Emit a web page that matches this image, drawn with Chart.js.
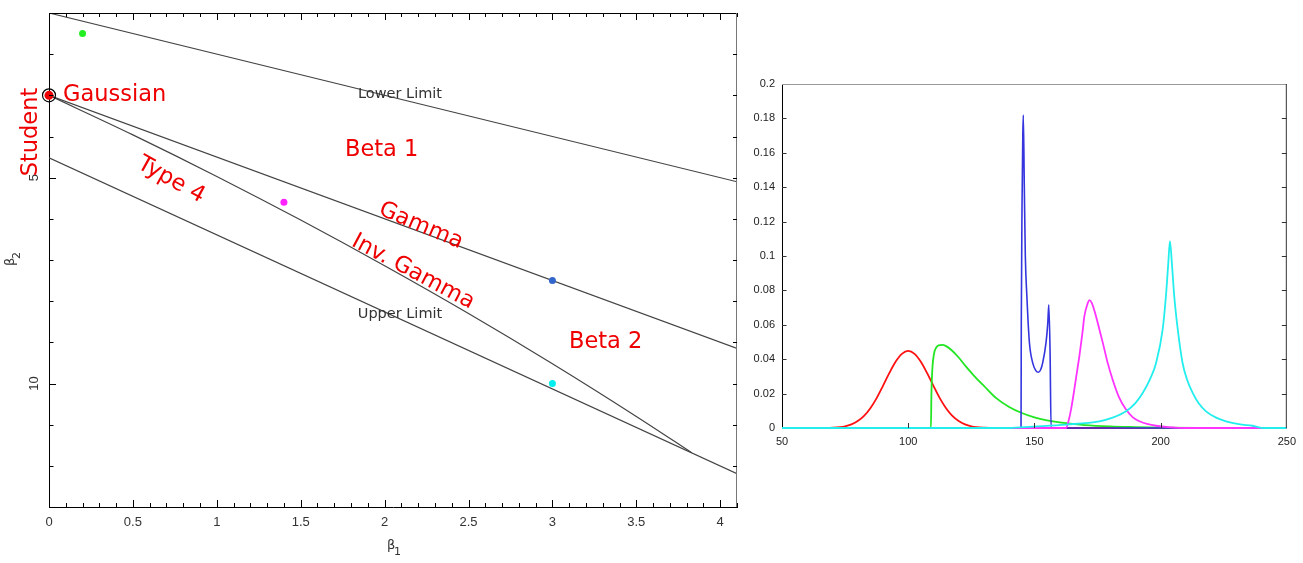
<!DOCTYPE html>
<html>
<head>
<meta charset="utf-8">
<script src="https://cdn.jsdelivr.net/npm/chart.js@4.4.1/dist/chart.umd.min.js"></script>
<style>
html, body { margin: 0; padding: 0; background: #fff; width: 1303px; height: 563px; overflow: hidden; }
#left { position: absolute; left: 0; top: 0; width: 760px; height: 563px; }
#right { position: absolute; left: 740px; top: 0; width: 563px; height: 563px; }
</style>
</head>
<body>
<div id="left"><canvas id="pearson"></canvas></div>
<div id="right"><canvas id="density"></canvas></div>
<script>
// ---- Pearson diagram: beta1 (x) vs beta2 (y, reversed) ----
const lowerLimit = [{x: 0, y: 1}, {x: 4.1, y: 5.1}];
const gammaLine = [{x: 0, y: 3}, {x: 4.1, y: 9.15}];
const invGammaLine = [
  {x: 0, y: 3}, {x: 0.5, y: 3.96}, {x: 1, y: 4.97}, {x: 1.5, y: 6.03}, {x: 2, y: 7.14},
  {x: 2.5, y: 8.3}, {x: 3, y: 9.52}, {x: 3.5, y: 10.8}, {x: 3.83, y: 11.68}
];
const upperLimit = [{x: 0, y: 4.52}, {x: 4.1, y: 12.19}];

const greenPoint = [{x: 0.2, y: 1.5}];
const magentaPoint = [{x: 1.4, y: 5.6}];
const bluePoint = [{x: 3, y: 7.5}];
const cyanPoint = [{x: 3, y: 10}];
const gaussPoint = [{x: 0, y: 3}];

const xTickStep = 0.5;
const yLabelValues = [5, 10];

// ---- density curves ----
const redX = [50, 65, 70, 75, 77.5, 80, 82.5, 85, 87.5, 90, 92.5, 95, 97.5, 100, 102.5, 105, 107.5, 110, 112.5, 115, 117.5, 120, 122.5, 125, 130, 135, 250];
const redY = [0, 0.00002, 0.0002, 0.001, 0.0021, 0.004, 0.007, 0.0115, 0.0174, 0.0245, 0.0319, 0.0385, 0.0431, 0.0448, 0.0431, 0.0385, 0.0319, 0.0245, 0.0174, 0.0115, 0.007, 0.004, 0.0021, 0.001, 0.0002, 0.00002, 0];

const greenX = [50, 109, 109.2, 109.6, 110.2, 111, 112, 113.5, 115, 117, 120, 123, 126, 130, 135, 140, 145, 150, 155, 160, 170, 180, 190, 200, 215, 250];
const greenY = [0, 0, 0.02, 0.035, 0.043, 0.0465, 0.048, 0.0483, 0.0476, 0.0455, 0.041, 0.0355, 0.0305, 0.0245, 0.0172, 0.0122, 0.0087, 0.0062, 0.0045, 0.0033, 0.0017, 0.0009, 0.0005, 0.0002, 0, 0];

const blueX = [50, 144.7, 144.8, 145.1, 145.4, 145.6, 146, 146.4, 147, 148, 149.3, 150.5, 151.6, 152.5, 153.3, 154.6, 155.3, 155.7, 156.2, 156.6, 250];
const blueY = [0, 0, 0.06, 0.13, 0.17, 0.182, 0.14, 0.1, 0.077, 0.05, 0.038, 0.0335, 0.0324, 0.034, 0.038, 0.0496, 0.061, 0.0717, 0.045, 0, 0];

const magentaX = [50, 162.5, 163.5, 164.5, 165.8, 167, 167.8, 169, 169.8, 171, 171.8, 172.8, 174.4, 175.8, 177.1, 179, 181, 183.5, 186.3, 189, 191.6, 195, 198.2, 203, 210, 250];
const magentaY = [0, 0, 0.004, 0.0107, 0.0223, 0.034, 0.0417, 0.055, 0.065, 0.072, 0.0743, 0.0725, 0.065, 0.057, 0.0495, 0.038, 0.0281, 0.018, 0.0107, 0.0062, 0.0039, 0.0022, 0.0013, 0.0005, 0, 0];

const cyanX = [50, 140, 149.2, 162.5, 175.7, 181, 186.3, 190, 192.9, 196, 198.2, 200.8, 202.1, 203, 203.7, 204.5, 205.4, 206.8, 208.7, 210.5, 212.7, 215, 218, 222, 225.9, 231, 236.4, 241, 250];
const cyanY = [0, 0, 0.0008, 0.002, 0.0039, 0.006, 0.0097, 0.0145, 0.0204, 0.029, 0.0378, 0.0572, 0.0766, 0.095, 0.1086, 0.095, 0.0766, 0.0572, 0.0378, 0.028, 0.0204, 0.0145, 0.0097, 0.006, 0.0039, 0.0022, 0.0013, 0, 0];

const densityTicks = [100, 150, 200];

const pairs = (xs, ys) => xs.map((v, i) => ({x: v, y: ys[i]}));

// draw a beta symbol with a numeric subscript, centred at 0,0
function drawBeta(ctx, sub) {
  ctx.font = '13px "DejaVu Sans"';
  ctx.textAlign = 'left';
  ctx.textBaseline = 'middle';
  ctx.fillText('β', -6, -2);
  ctx.font = '11px "DejaVu Sans"';
  ctx.fillText(sub, 1, 4);
}

function label(ctx, text, x, y, angle) {
  ctx.save();
  ctx.translate(x, y);
  ctx.rotate(angle * Math.PI / 180);
  ctx.fillText(text, 0, 0);
  ctx.restore();
}

const pearsonFrame = {
  id: 'pearsonFrame',
  afterDraw(chart) {
    const {ctx, chartArea: a, scales: {x, y}} = chart;
    ctx.save();
    // top and right border
    ctx.lineWidth = 1;
    ctx.strokeStyle = '#000';
    ctx.beginPath();
    ctx.moveTo(a.left, a.top + 0.5);
    ctx.lineTo(a.right, a.top + 0.5);
    ctx.stroke();
    ctx.strokeStyle = '#777';
    ctx.beginPath();
    ctx.moveTo(a.right - 0.5, a.top);
    ctx.lineTo(a.right - 0.5, a.bottom);
    ctx.stroke();

    // inward ticks, every 0.1 on x, longer every 0.5
    ctx.strokeStyle = '#000';
    ctx.beginPath();
    for (let i = 1; i <= 41; i++) {
      const px = Math.round(x.getPixelForValue(i / 10)) + 0.5;
      const len = i % 5 === 0 ? 7 : 4;
      ctx.moveTo(px, a.bottom); ctx.lineTo(px, a.bottom - len);
      ctx.moveTo(px, a.top); ctx.lineTo(px, a.top + len);
    }
    for (let v = 2; v <= 12; v++) {
      const py = Math.round(y.getPixelForValue(v)) + 0.5;
      const len = yLabelValues.includes(v) ? 7 : 4.5;
      ctx.moveTo(a.left, py); ctx.lineTo(a.left + len, py);
      ctx.moveTo(a.right, py); ctx.lineTo(a.right - 4, py);
    }
    ctx.stroke();

    // y tick labels (rotated) and axis titles
    ctx.fillStyle = '#333';
    ctx.font = '13px "Liberation Sans"';
    ctx.textAlign = 'center';
    ctx.textBaseline = 'middle';
    yLabelValues.forEach(v => label(ctx, String(v), 34, y.getPixelForValue(v), -90));
    ctx.save();
    ctx.translate(13, (a.top + a.bottom) / 2);
    ctx.rotate(-Math.PI / 2);
    drawBeta(ctx, '2');
    ctx.restore();
    ctx.save();
    ctx.translate((a.left + a.right) / 2, 548);
    drawBeta(ctx, '1');
    ctx.restore();

    // limit labels
    ctx.fillStyle = '#333';
    ctx.font = '14.5px "DejaVu Sans"';
    ctx.textAlign = 'center';
    ctx.textBaseline = 'middle';
    ctx.fillText('Lower Limit', 400, 94);
    ctx.fillText('Upper Limit', 400, 314);

    // region labels
    ctx.fillStyle = '#ee0000';
    ctx.font = '22.5px "DejaVu Sans"';
    ctx.textAlign = 'left';
    ctx.textBaseline = 'alphabetic';
    ctx.fillText('Gaussian', 63, 101);
    ctx.fillText('Beta 1', 345, 156);
    ctx.fillText('Beta 2', 569, 348);
    ctx.textAlign = 'center';
    ctx.textBaseline = 'middle';
    label(ctx, 'Student', 31, 132, -90);
    label(ctx, 'Type 4', 171, 180, 29);
    label(ctx, 'Gamma', 421, 226, 23);
    label(ctx, 'Inv. Gamma', 413, 272, 28);
    ctx.restore();
  }
};

const lineStyle = {showLine: true, pointRadius: 0, borderColor: '#444', borderWidth: 1.2, fill: false};
const dotStyle = (c) => ({pointRadius: 3.5, pointBackgroundColor: c, pointBorderColor: c, pointBorderWidth: 0, showLine: false, clip: false});

new Chart(document.getElementById('pearson'), {
  type: 'scatter',
  data: {
    datasets: [
      Object.assign({data: gaussPoint}, dotStyle('#ee0000'), {pointRadius: 4.5}),
      {data: gaussPoint, showLine: false, pointRadius: 6.5, pointBackgroundColor: 'rgba(0,0,0,0)', pointBorderColor: '#000', pointBorderWidth: 1.2, clip: false},
      Object.assign({data: greenPoint}, dotStyle('#22ee22')),
      Object.assign({data: magentaPoint}, dotStyle('#ff22ff')),
      Object.assign({data: bluePoint}, dotStyle('#3366cc')),
      Object.assign({data: cyanPoint}, dotStyle('#00eeee')),
      Object.assign({data: lowerLimit}, lineStyle),
      Object.assign({data: gammaLine}, lineStyle),
      Object.assign({data: invGammaLine}, lineStyle, {cubicInterpolationMode: 'monotone'}),
      Object.assign({data: upperLimit}, lineStyle)
    ]
  },
  options: {
    animation: false,
    responsive: true,
    maintainAspectRatio: false,
    events: [],
    layout: {padding: {top: 13, right: 23, left: 0, bottom: 0}},
    plugins: {legend: {display: false}, tooltip: {enabled: false}},
    scales: {
      x: {
        type: 'linear', min: 0, max: 4.1,
        grid: {display: false, drawTicks: false},
        border: {display: true, color: '#000', width: 1},
        ticks: {stepSize: xTickStep, includeBounds: false, padding: 8, color: '#333', font: {family: 'Liberation Sans', size: 13}, maxRotation: 0,
          callback: (v) => String(Number(v.toFixed(1)))},
        afterFit: (s) => { s.height = 56; }
      },
      y: {
        type: 'linear', min: 1, max: 13, reverse: true,
        grid: {display: false, drawTicks: false},
        border: {display: true, color: '#000', width: 1},
        ticks: {display: false, stepSize: 1},
        afterFit: (s) => { s.width = 49; }
      }
    }
  },
  plugins: [pearsonFrame]
});

const densityFrame = {
  id: 'densityFrame',
  afterDraw(chart) {
    const {ctx, chartArea: a, scales: {x, y}} = chart;
    ctx.save();
    ctx.lineWidth = 1;
    ctx.strokeStyle = '#999';
    ctx.beginPath();
    ctx.moveTo(a.left, a.top + 0.5); ctx.lineTo(a.right, a.top + 0.5);
    ctx.stroke();
    ctx.strokeStyle = '#333';
    ctx.beginPath();
    ctx.moveTo(a.right - 0.5, a.top); ctx.lineTo(a.right - 0.5, a.bottom);
    y.ticks.forEach(t => {
      if (t.value <= 0 || t.value >= 0.2) return;
      const py = Math.round(y.getPixelForValue(t.value)) + 0.5;
      ctx.moveTo(a.left, py); ctx.lineTo(a.left + 4.5, py);
      ctx.moveTo(a.right, py); ctx.lineTo(a.right - 5, py);
    });
    densityTicks.forEach(v => {
      const px = Math.round(x.getPixelForValue(v)) + 0.5;
      ctx.moveTo(px, a.bottom); ctx.lineTo(px, a.bottom - 5);
    });
    ctx.stroke();
    ctx.restore();
  }
};

const curve = (xs, ys, color, order) => ({
  data: pairs(xs, ys), showLine: true, pointRadius: 0, borderColor: color,
  borderWidth: 1.8, cubicInterpolationMode: 'monotone', fill: false, order: order,
  clip: {left: 0, top: 0, right: 0, bottom: 2}
});

new Chart(document.getElementById('density'), {
  type: 'scatter',
  data: {
    datasets: [
      curve(redX, redY, '#ff1111', 4),
      curve(greenX, greenY, '#22e622', 3),
      Object.assign(curve(blueX, blueY, '#3535e0', 2), {borderWidth: 1.6}),
      curve(magentaX, magentaY, '#ff33ff', 1),
      curve(cyanX, cyanY, '#22eeee', 0)
    ]
  },
  options: {
    animation: false,
    responsive: true,
    maintainAspectRatio: false,
    events: [],
    layout: {padding: {top: 84, right: 16, left: 0, bottom: 0}},
    plugins: {legend: {display: false}, tooltip: {enabled: false}},
    scales: {
      x: {
        type: 'linear', min: 50, max: 250,
        grid: {display: false, drawTicks: false},
        border: {display: true, color: '#000', width: 1},
        ticks: {stepSize: 50, padding: 7, color: '#222', font: {family: 'Liberation Sans', size: 11}, maxRotation: 0},
        afterFit: (s) => { s.height = 135; }
      },
      y: {
        type: 'linear', min: 0, max: 0.2,
        grid: {display: false, drawTicks: false},
        border: {display: true, color: '#000', width: 1},
        ticks: {stepSize: 0.02, padding: 7, color: '#222', font: {family: 'Liberation Sans', size: 11},
          callback: (v) => String(Number(v.toFixed(2)))},
        afterFit: (s) => { s.width = 42; }
      }
    }
  },
  plugins: [densityFrame]
});
</script>
</body>
</html>
